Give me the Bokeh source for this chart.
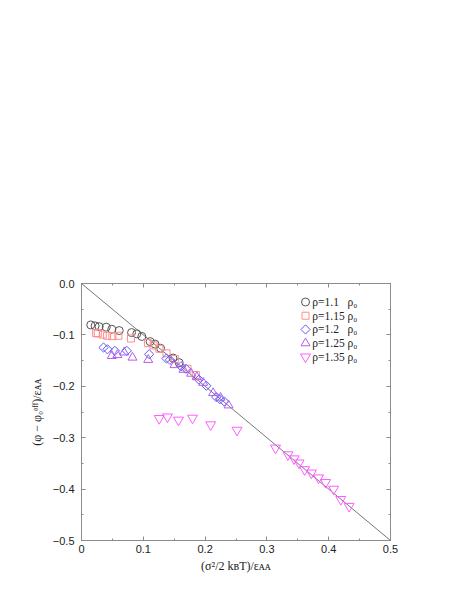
from bokeh.plotting import figure
from bokeh.models import (Range1d, SingleIntervalTicker, LinearAxis,
                          CustomJSTickFormatter, Label)
from bokeh.embed import file_html
from bokeh.resources import INLINE

# reference line y = -x
line_x = [0.0, 0.5]
line_y = [0.0, -0.5]

# rho = 1.1 rho0 (circles)
x_110 = [0.015, 0.022, 0.0285, 0.040, 0.049, 0.061, 0.081, 0.0895, 0.0976,
         0.111, 0.119, 0.128, 0.148, 0.158]
y_110 = [-0.0806, -0.0825, -0.084, -0.085, -0.089, -0.0916, -0.0955, -0.098,
         -0.103, -0.113, -0.118, -0.126, -0.145, -0.154]

# rho = 1.15 rho0 (squares)
x_115 = [0.0237, 0.0263, 0.0344, 0.0414, 0.050, 0.0597, 0.080, 0.1075,
         0.1167, 0.126, 0.1376, 0.151, 0.1715, 0.185]
y_115 = [-0.0964, -0.0971, -0.0994, -0.1017, -0.1024, -0.1017, -0.107, -0.116,
         -0.1206, -0.127, -0.1358, -0.147, -0.166, -0.178]

# rho = 1.2 rho0 (diamonds)
x_120 = [0.0356, 0.042, 0.054, 0.0733, 0.1095, 0.1375, 0.143, 0.161, 0.169,
         0.190, 0.202, 0.218, 0.224, 0.231]
y_120 = [-0.1246, -0.128, -0.131, -0.131, -0.1376, -0.146, -0.1485, -0.161,
         -0.166, -0.187, -0.199, -0.221, -0.225, -0.2295]

# rho = 1.25 rho0 (triangles up)
x_125 = [0.049, 0.058, 0.069, 0.0825, 0.108, 0.1505, 0.165, 0.1774, 0.1866,
         0.197, 0.213, 0.225, 0.238]
y_125 = [-0.1408, -0.139, -0.134, -0.144, -0.1485, -0.1586, -0.1677, -0.1753,
         -0.182, -0.193, -0.213, -0.222, -0.237]

# rho = 1.35 rho0 (triangles down)
x_135 = [0.1258, 0.139, 0.157, 0.1796, 0.209, 0.2516, 0.314, 0.334, 0.344,
         0.352, 0.361, 0.372, 0.3835, 0.395, 0.408, 0.4196, 0.433]
y_135 = [-0.2625, -0.2595, -0.2656, -0.2618, -0.2747, -0.2853, -0.320, -0.333,
         -0.341, -0.349, -0.362, -0.3686, -0.378, -0.387, -0.400, -0.420, -0.4334]

labels = ["ρ=1.1\u2007 ρ₀", "ρ=1.15 ρ₀", "ρ=1.2\u2007 ρ₀", "ρ=1.25 ρ₀", "ρ=1.35 ρ₀"]

x_ticks = [0.0, 0.1, 0.2, 0.3, 0.4, 0.5]
y_ticks = [0.0, -0.1, -0.2, -0.3, -0.4, -0.5]

AX = "#8c8c8c"
SANS = "Liberation Sans"
SERIF = "Liberation Serif"

p = figure(width=471, height=610, output_backend="svg", toolbar_location=None,
           x_range=Range1d(x_ticks[0], x_ticks[-1]),
           y_range=Range1d(y_ticks[-1], y_ticks[0]),
           min_border_left=81, min_border_right=81,
           min_border_top=283, min_border_bottom=70)
p.xgrid.visible = False
p.ygrid.visible = False
p.outline_line_color = AX
p.outline_line_width = 1
p.background_fill_color = "white"
p.border_fill_color = "white"

xfmt = CustomJSTickFormatter(code="return Math.abs(tick) < 1e-9 ? '0' : tick.toFixed(1);")
yfmt = CustomJSTickFormatter(code="var s = Math.abs(tick) < 1e-9 ? '0.0' : tick.toFixed(1); return s.replace('-', '\u2212');")
blank = CustomJSTickFormatter(code="return '';")


def style_axis(ax, fmt):
    ax.ticker = SingleIntervalTicker(interval=0.1, num_minor_ticks=2)
    ax.formatter = fmt
    ax.axis_line_color = AX
    ax.major_tick_line_color = AX
    ax.minor_tick_line_color = AX
    ax.major_tick_in = 4
    ax.major_tick_out = 0
    ax.minor_tick_in = 2
    ax.minor_tick_out = 0
    ax.major_label_text_font = SANS
    ax.major_label_text_font_size = "11px"
    ax.major_label_text_color = "#222222"
    ax.axis_label_text_font = SERIF
    ax.axis_label_text_font_style = "normal"
    ax.axis_label_text_font_size = "12px"
    ax.axis_label_text_color = "#222222"


style_axis(p.xaxis[0], xfmt)
style_axis(p.yaxis[0], yfmt)
p.xaxis[0].major_label_standoff = 4
p.xaxis[0].axis_label_standoff = 3
p.yaxis[0].major_label_standoff = 7
p.yaxis[0].axis_label_standoff = 6
p.xaxis[0].axis_label = "(σ²/2 kʙT)/εᴀᴀ"
p.yaxis[0].axis_label = "(φ − φ₀ᵉᶠᶠ)/εᴀᴀ"

top = LinearAxis()
style_axis(top, blank)
top.major_label_standoff = 0
p.add_layout(top, "above")
right = LinearAxis()
style_axis(right, blank)
right.major_label_standoff = 0
p.add_layout(right, "right")

p.line(line_x, line_y, line_color="#777777", line_width=1)

colors = ["#555555", "#ff8c8c", "#5a5aff", "#b060f0", "#ff5cff"]
styles = [dict(marker="circle", size=8),
          dict(marker="square", size=7),
          dict(marker="square", size=6.5, angle=0.7854),
          dict(marker="triangle", size=9),
          dict(marker="inverted_triangle", size=10)]
series = [(x_110, y_110), (x_115, y_115), (x_120, y_120),
          (x_125, y_125), (x_135, y_135)]

for (xs, ys), st, c in zip(series, styles, colors):
    p.scatter(xs, ys, fill_color=None, line_color=c, line_width=1, **st)

# hand-made legend (key glyph + label per series), placed in the upper right
LEG_X = 0.3625      # key column (data units along x)
LEG_TOP = -0.036    # first row (data units along y)
LEG_STEP = 0.0267   # row pitch
LEG_GAP = 0.011     # key-to-text gap
for i, (lab, st, c) in enumerate(zip(labels, styles, colors)):
    yy = LEG_TOP - i * LEG_STEP
    p.scatter([LEG_X], [yy], fill_color=None, line_color=c, line_width=1, **st)
    p.add_layout(Label(x=LEG_X + LEG_GAP, y=yy, text=lab, text_font=SERIF,
                       text_font_size="11.5px", text_color="#222222",
                       text_baseline="middle", text_align="left"))

open("out.html", "w").write(file_html(p, INLINE))
